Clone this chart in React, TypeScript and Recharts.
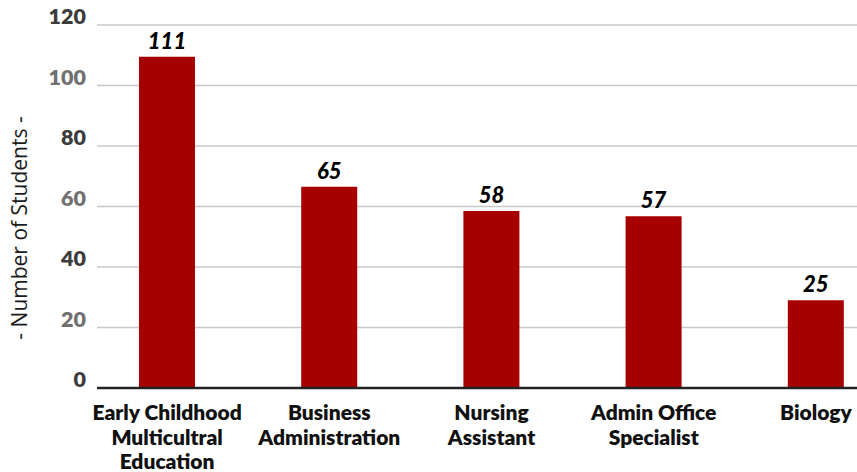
import React from "react";
import { BarChart, Bar, XAxis, YAxis, CartesianGrid, LabelList } from "recharts";

const categories = [
  "Early Childhood\nMulticultral\nEducation",
  "Business\nAdministration",
  "Nursing\nAssistant",
  "Admin Office\nSpecialist",
  "Biology",
];
const barValues = [109.5, 66.5, 58.5, 56.8, 29];
const barLabels = ["111", "65", "58", "57", "25"];
const yTicks = [0, 20, 40, 60, 80, 100, 120];

const data = categories.map((name, i) => ({ name, value: barValues[i], label: barLabels[i] }));

const FONT = "Lato, 'Open Sans', sans-serif";

const XTick = (props: any) => {
  const { x, y, payload } = props;
  const lines = String(payload.value).split("\n");
  return (
    <text x={x} y={y + 30} textAnchor="middle" fontFamily={FONT} fontWeight={800} fontSize={21} fill="#111">
      {lines.map((l: string, i: number) => (
        <tspan key={i} x={x} dy={i === 0 ? 0 : 24.5}>
          {l}
        </tspan>
      ))}
    </text>
  );
};

const YTick = (props: any) => {
  const { y, payload, index } = props;
  const dark = index % 2 === 0;
  return (
    <text x={86} y={y - 1} textAnchor="end" fontFamily={FONT} fontWeight={800} fontSize={21.5} fill={dark ? "#3c3c3c" : "#707070"}>
      {payload.value}
    </text>
  );
};

const YLabel = () => (
  <text
    x={19}
    y={228}
    transform="rotate(-90 19 228)"
    textAnchor="middle"
    dominantBaseline="central"
    fontFamily="'Open Sans', sans-serif"
    fontSize={21}
    fill="#1a1a1a"
  >
    - Number of Students -
  </text>
);

export default function App() {
  return (
    <div style={{ position: "absolute", left: 0, top: 0, width: 857, height: 472, overflow: "hidden", background: "#fff" }}>
      <BarChart width={900} height={472} data={data} margin={{ top: 25, right: 0, left: 0, bottom: 0 }}>
        <CartesianGrid vertical={false} stroke="#c8c8c8" strokeWidth={1.5} />
        <XAxis
          dataKey="name"
          interval={0}
          height={84}
          tickLine={false}
          tickSize={0}
          tick={<XTick />}
          axisLine={{ stroke: "#222", strokeWidth: 2.5 }}
          padding={{ left: -11, right: 3 }}
        />
        <YAxis
          width={97}
          domain={[0, 120]}
          ticks={yTicks}
          axisLine={false}
          tickLine={false}
          tick={<YTick />}
          label={<YLabel />}
        />
        <Bar dataKey="value" fill="#a60000" barSize={56} isAnimationActive={false}>
          <LabelList
            dataKey="label"
            position="top"
            offset={8}
            fill="#000"
            fontFamily={FONT}
            fontWeight={900}
            fontStyle="italic"
            fontSize={22}
          />
        </Bar>
      </BarChart>
    </div>
  );
}
